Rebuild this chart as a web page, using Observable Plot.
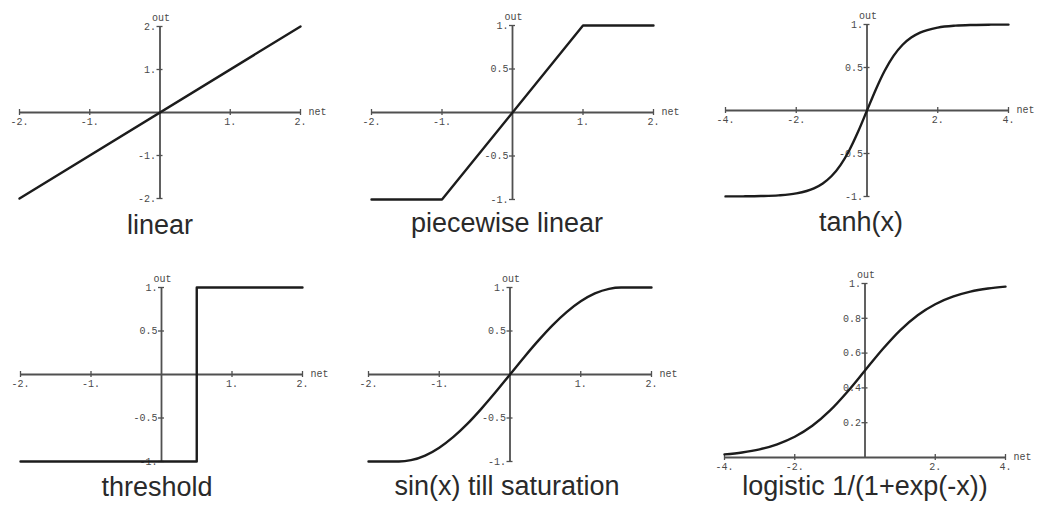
<!DOCTYPE html>
<html><head><meta charset="utf-8">
<script src="https://cdn.jsdelivr.net/npm/d3@7"></script>
<script src="https://cdn.jsdelivr.net/npm/@observablehq/plot@0.6"></script>
<style>
body{margin:0;background:#fff;}
#root{position:relative;width:1040px;height:506px;overflow:hidden;background:#fff;}
.panel{position:absolute;}
.title{position:absolute;width:400px;text-align:center;font-family:"Liberation Sans",Arial,sans-serif;font-size:27px;line-height:27px;color:#2a2a2a;white-space:nowrap;}
</style></head><body><div id="root"></div>
<script>
// ---- data ----
const titles = ["linear", "piecewise linear", "tanh(x)", "threshold", "sin(x) till saturation", "logistic 1/(1+exp(-x))"];

const linearNet = [-2, 2];
const linearOut = [-2, 2];

const pieceNet = [-2, -1, 1, 2];
const pieceOut = [-1, -1, 1, 1];

const tanhNet = [-4, -3.5, -3, -2.5, -2, -1.5, -1.25, -1, -0.75, -0.5, -0.25, 0, 0.25, 0.5, 0.75, 1, 1.25, 1.5, 2, 2.5, 3, 3.5, 4];
const tanhOut = [-0.999, -0.998, -0.995, -0.987, -0.964, -0.905, -0.848, -0.762, -0.635, -0.462, -0.245, 0, 0.245, 0.462, 0.635, 0.762, 0.848, 0.905, 0.964, 0.987, 0.995, 0.998, 0.999];

const thresholdNet = [-2, 0.5, 0.5, 2];
const thresholdOut = [-1, -1, 1, 1];

const sinNet = [-2, -1.57, -1.4, -1.2, -1, -0.8, -0.6, -0.4, -0.2, 0, 0.2, 0.4, 0.6, 0.8, 1, 1.2, 1.4, 1.57, 2];
const sinOut = [-1, -1, -0.985, -0.932, -0.841, -0.717, -0.565, -0.389, -0.199, 0, 0.199, 0.389, 0.565, 0.717, 0.841, 0.932, 0.985, 1, 1];

const logisticNet = [-4, -3.5, -3, -2.5, -2, -1.5, -1, -0.5, 0, 0.5, 1, 1.5, 2, 2.5, 3, 3.5, 4];
const logisticOut = [0.018, 0.029, 0.047, 0.076, 0.119, 0.182, 0.269, 0.378, 0.5, 0.622, 0.731, 0.818, 0.881, 0.924, 0.953, 0.971, 0.982];

const xTicks2 = [-2, -1, 1, 2];
const xLabels2 = ["-2.", "-1.", "1.", "2."];
const xTicks4 = [-4, -2, 2, 4];
const xLabels4 = ["-4.", "-2.", "2.", "4."];
const yTicks2 = [-2, -1, 1, 2];
const yLabels2 = ["-2.", "-1.", "1.", "2."];
const yTicks1 = [-1, -0.5, 0.5, 1];
const yLabels1 = ["-1.", "-0.5", "0.5", "1."];
const yTicksLog = [0.2, 0.4, 0.6, 0.8, 1];
const yLabelsLog = ["0.2", "0.4", "0.6", "0.8", "1."];

// ---- layout ----
const panels = [
  {title: titles[0], net: linearNet, out: linearOut, curve: "linear", xd: [-2, 2], yd: [-2, 2], xt: xTicks2, xl: xLabels2, yt: yTicks2, yl: yLabels2, box: [0, 0, 345, 250], px: [19, 300], py: [198, 26], tx: 160, tb: 235},
  {title: titles[1], net: pieceNet, out: pieceOut, curve: "linear", xd: [-2, 2], yd: [-1, 1], xt: xTicks2, xl: xLabels2, yt: yTicks1, yl: yLabels1, box: [345, 0, 345, 250], px: [371, 653], py: [199, 25], tx: 507, tb: 233},
  {title: titles[2], net: tanhNet, out: tanhOut, curve: "monotone-x", xd: [-4, 4], yd: [-1, 1], xt: xTicks4, xl: xLabels4, yt: yTicks1, yl: yLabels1, box: [690, 0, 350, 250], px: [725, 1008], py: [196, 24], tx: 861, tb: 232},
  {title: titles[3], net: thresholdNet, out: thresholdOut, curve: "linear", xd: [-2, 2], yd: [-1, 1], xt: xTicks2, xl: xLabels2, yt: yTicks1, yl: yLabels1, box: [0, 250, 345, 256], px: [20, 302], py: [461, 287], tx: 157, tb: 497},
  {title: titles[4], net: sinNet, out: sinOut, curve: "monotone-x", xd: [-2, 2], yd: [-1, 1], xt: xTicks2, xl: xLabels2, yt: yTicks1, yl: yLabels1, box: [345, 250, 345, 256], px: [368, 651], py: [461, 287], tx: 507, tb: 496},
  {title: titles[5], net: logisticNet, out: logisticOut, curve: "monotone-x", xd: [-4, 4], yd: [0, 1], xt: xTicks4, xl: xLabels4, yt: yTicksLog, yl: yLabelsLog, box: [690, 250, 350, 256], px: [724, 1005], py: [457, 283], tx: 865, tb: 496}
];

const root = document.getElementById("root");
const mono = "'Liberation Mono', 'DejaVu Sans Mono', monospace";
const axisColor = "#505050";
const labelColor = "#4a4a4a";

for (const p of panels) {
  const [bl, bt, bw, bh] = p.box;
  const rows = p.net.map((n, i) => ({net: n, out: p.out[i]}));
  const yAxisAt = p.yd[0] < 0 ? 0 : p.yd[0];
  const chart = Plot.plot({
    width: bw, height: bh,
    marginLeft: p.px[0] - bl,
    marginRight: bl + bw - p.px[1],
    marginTop: p.py[1] - bt,
    marginBottom: bt + bh - p.py[0],
    x: {domain: p.xd, axis: null},
    y: {domain: p.yd, axis: null},
    style: {background: "transparent", overflow: "visible"},
    marks: [
      // axes
      Plot.ruleY([yAxisAt], {x1: p.xd[0], x2: p.xd[1], stroke: axisColor, strokeWidth: 1.8}),
      Plot.ruleX([0], {y1: p.yd[0], y2: p.yd[1], stroke: axisColor, strokeWidth: 1.8}),
      // ticks
      Plot.ruleX(p.xt, {x: d => d, y1: yAxisAt, y2: yAxisAt, insetTop: -3, insetBottom: -3, stroke: axisColor, strokeWidth: 1.3}),
      Plot.ruleY(p.yt, {y: d => d, x1: 0, x2: 0, insetLeft: -3, insetRight: -3, stroke: axisColor, strokeWidth: 1.3}),
      // tick labels
      Plot.text(p.xt, {x: d => d, y: yAxisAt, text: (d, i) => p.xl[i], dy: 9, fontFamily: mono, fontSize: 10, fill: labelColor}),
      Plot.text(p.yt, {x: 0, y: d => d, text: (d, i) => p.yl[i], dx: -4, textAnchor: "end", fontFamily: mono, fontSize: 10, fill: labelColor}),
      // axis names
      Plot.text(["out"], {x: 0, y: p.yd[1], dy: -9, dx: 1, textAnchor: "middle", fontFamily: mono, fontSize: 10, fill: labelColor}),
      Plot.text(["net"], {x: p.xd[1], y: yAxisAt, dx: 8, dy: -1, textAnchor: "start", fontFamily: mono, fontSize: 10, fill: labelColor}),
      // curve
      Plot.line(rows, {x: "net", y: "out", curve: p.curve, stroke: "#1c1c1c", strokeWidth: 2.4, strokeLinejoin: "round"})
    ]
  });
  chart.classList.add("panel");
  chart.style.left = bl + "px";
  chart.style.top = bt + "px";
  root.appendChild(chart);

  const t = document.createElement("div");
  t.className = "title";
  t.textContent = p.title;
  t.style.left = (p.tx - 200) + "px";
  t.style.top = (p.tb - 23) + "px";
  root.appendChild(t);
}
</script>
</body></html>
